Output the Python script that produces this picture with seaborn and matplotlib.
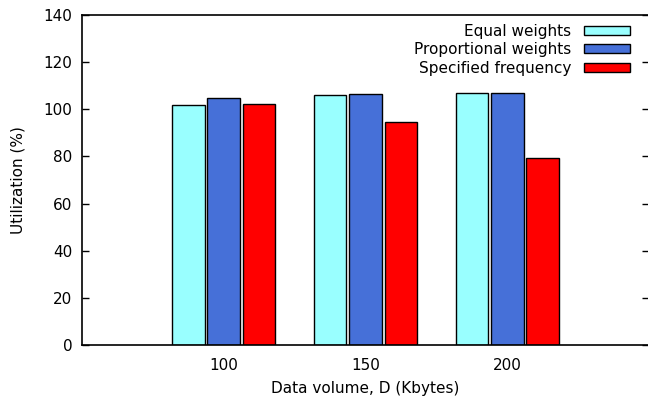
import matplotlib
matplotlib.use("Agg")
import matplotlib.pyplot as plt
import seaborn as sns
import pandas as pd

# values
volumes = ["100", "150", "200"]
series = ["Equal weights", "Proportional weights", "Specified frequency"]
equal_w = [101.8, 106.0, 106.8]
prop_w = [104.9, 106.3, 106.8]
spec_freq = [102.4, 94.5, 79.2]

colors = ["#99ffff", "#4670d8", "#ff0000"]

rows = []
for name, vals in zip(series, [equal_w, prop_w, spec_freq]):
    for v, u in zip(volumes, vals):
        rows.append({"volume": v, "series": name, "util": u})
df = pd.DataFrame(rows)

sns.set_style("white")
plt.rcParams['font.family'] = ['DejaVu Sans']
plt.rcParams['font.size'] = 11
plt.rcParams['text.color'] = 'black'
plt.rcParams['axes.labelcolor'] = 'black'

fig = plt.figure(figsize=(6.48, 3.99), dpi=100)
ax = fig.add_axes([82 / 648, 54 / 399, 567 / 648, 330 / 399])

sns.barplot(data=df, x="volume", y="util", hue="series", order=volumes,
            hue_order=series, palette=colors, width=0.75, gap=0.08,
            edgecolor="black", linewidth=1, saturation=1, errorbar=None,
            ax=ax)

ax.set_xlim(-1, 3)
ax.set_ylim(0, 140)
ax.set_yticks(range(0, 141, 20))
ax.set_xlabel("Data volume, D (Kbytes)", fontsize=11, labelpad=6)
ax.set_ylabel("Utilization (%)", fontsize=11, labelpad=13)
ax.tick_params(axis="y", direction="in", length=5, width=1, left=True,
               right=True, labelsize=11, colors="black", pad=7)
ax.tick_params(axis="x", length=0, labelsize=11, pad=9, colors="black")
for s in ax.spines.values():
    s.set_visible(True)
    s.set_color("black")
    s.set_linewidth(1.2)

ax.legend(loc="upper right", bbox_to_anchor=(0.99, 1.015), frameon=False,
          markerfirst=False, handlelength=3.0, handleheight=0.55,
          labelspacing=0.22, handletextpad=0.8, fontsize=11)

fig.savefig("out.png", dpi=100)
